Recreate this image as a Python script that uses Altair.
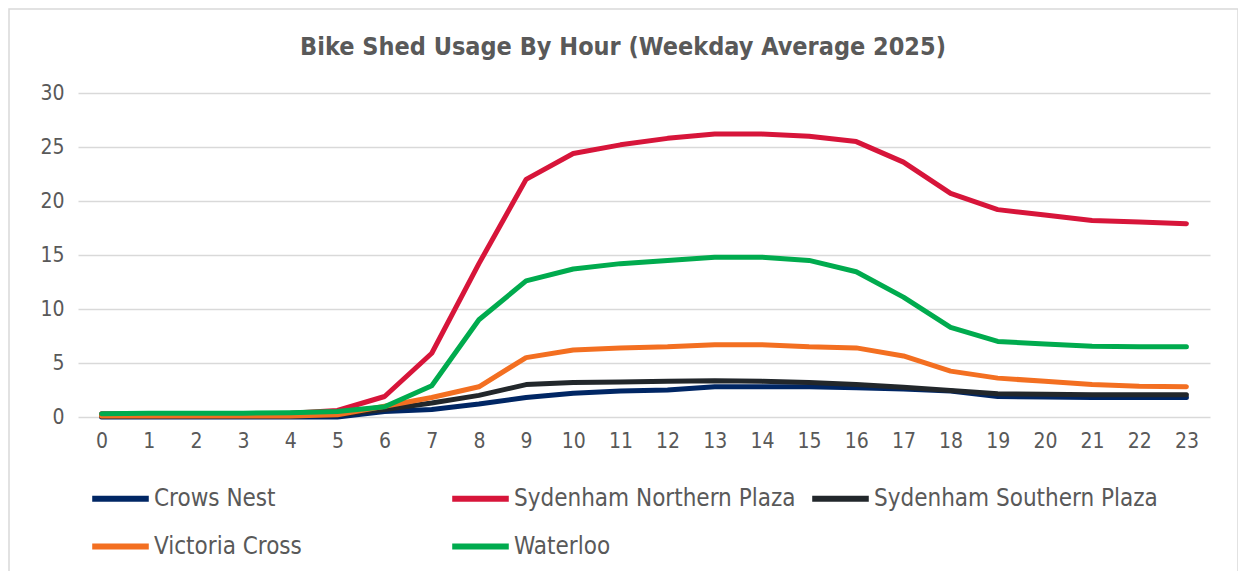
import altair as alt
import pandas as pd

hours = list(range(24))
series_names = ["Crows Nest", "Sydenham Northern Plaza", "Sydenham Southern Plaza", "Victoria Cross", "Waterloo"]
crows_nest = [0.0, 0.0, 0.0, 0.0, 0.0, 0.0, 0.5, 0.7, 1.2, 1.8, 2.2, 2.4, 2.5, 2.8, 2.8, 2.8, 2.7, 2.6, 2.4, 1.9, 1.85, 1.8, 1.8, 1.8]
syd_north = [0.3, 0.3, 0.3, 0.3, 0.35, 0.6, 1.9, 5.9, 14.2, 22.0, 24.4, 25.2, 25.8, 26.2, 26.2, 26.0, 25.5, 23.6, 20.7, 19.2, 18.7, 18.2, 18.05, 17.9]
syd_south = [0.1, 0.1, 0.1, 0.1, 0.1, 0.2, 0.7, 1.3, 2.0, 3.0, 3.2, 3.25, 3.3, 3.35, 3.3, 3.2, 3.0, 2.75, 2.45, 2.15, 2.1, 2.05, 2.05, 2.05]
victoria_cross = [0.1, 0.1, 0.1, 0.1, 0.1, 0.2, 1.0, 1.8, 2.8, 5.5, 6.2, 6.4, 6.5, 6.7, 6.7, 6.5, 6.4, 5.65, 4.25, 3.6, 3.3, 3.0, 2.85, 2.8]
waterloo = [0.3, 0.35, 0.35, 0.35, 0.4, 0.5, 0.95, 2.9, 9.0, 12.6, 13.7, 14.2, 14.5, 14.8, 14.8, 14.5, 13.45, 11.1, 8.3, 7.0, 6.75, 6.55, 6.5, 6.5]
colors = ["#002664", "#D7153A", "#22272B", "#F36F21", "#00AB4E"]
y_ticks = [0, 5, 10, 15, 20, 25, 30]
title_text = ["Bike Shed Usage By Hour (Weekday Average 2025)"]

rows = []
for name, vals in zip(series_names, [crows_nest, syd_north, syd_south, victoria_cross, waterloo]):
    for h, v in zip(hours, vals):
        rows.append({"Hour": h, "Usage": v, "Station": name})
df = pd.DataFrame(rows)

FONT = "DejaVu Sans Condensed, Roboto, sans-serif"
GRAY = "#595959"

frame = alt.Chart(pd.DataFrame({"f": [0]})).mark_rect(
    fill=None, stroke="#D9D9D9", strokeWidth=1.5
).encode(x=alt.value(-69), x2=alt.value(1160), y=alt.value(-84), y2=alt.value(490))

title = alt.Chart(pd.DataFrame({"t": title_text})).mark_text(
    font=FONT, fontSize=25, fontWeight="bold", color=GRAY, align="center", baseline="middle"
).encode(text="t:N", x=alt.value(545), y=alt.value(-46))

lines = alt.Chart(df).mark_line(strokeWidth=5, strokeCap="round", strokeJoin="round").encode(
    x=alt.X("Hour:O", scale=alt.Scale(type="point", padding=0.5),
            axis=alt.Axis(title=None, labelAngle=0, domain=False, ticks=False, grid=False,
                          labelFont=FONT, labelFontSize=21, labelColor=GRAY, labelPadding=13)),
    y=alt.Y("Usage:Q", scale=alt.Scale(domain=[0, 30], nice=False),
            axis=alt.Axis(title=None, values=y_ticks, domain=False, ticks=False,
                          gridColor="#D9D9D9", gridWidth=1.5,
                          labelFont=FONT, labelFontSize=21, labelColor=GRAY, labelPadding=14)),
    color=alt.Color("Station:N", scale=alt.Scale(domain=series_names, range=colors),
                    legend=alt.Legend(title=None, orient="none", legendX=11, legendY=374,
                                      columns=3, direction="horizontal", gridAlign="all",
                                      columnPadding=2, rowPadding=4,
                                      symbolType="stroke", symbolSize=3200, symbolStrokeWidth=6,
                                      labelFont=FONT, labelFontSize=24, labelColor=GRAY,
                                      labelOffset=2, labelLimit=400)),
    order=alt.Order("Station:N"),
)

chart = alt.layer(frame, title, lines).properties(
    width=1132, height=324,
    padding={"left": 70, "top": 85, "right": 28, "bottom": 160},
    autosize=alt.AutoSizeParams(type="none"),
).configure(background="white").configure_view(stroke=None)

chart.save("out.html", embed_options={"renderer": "svg", "actions": False})
